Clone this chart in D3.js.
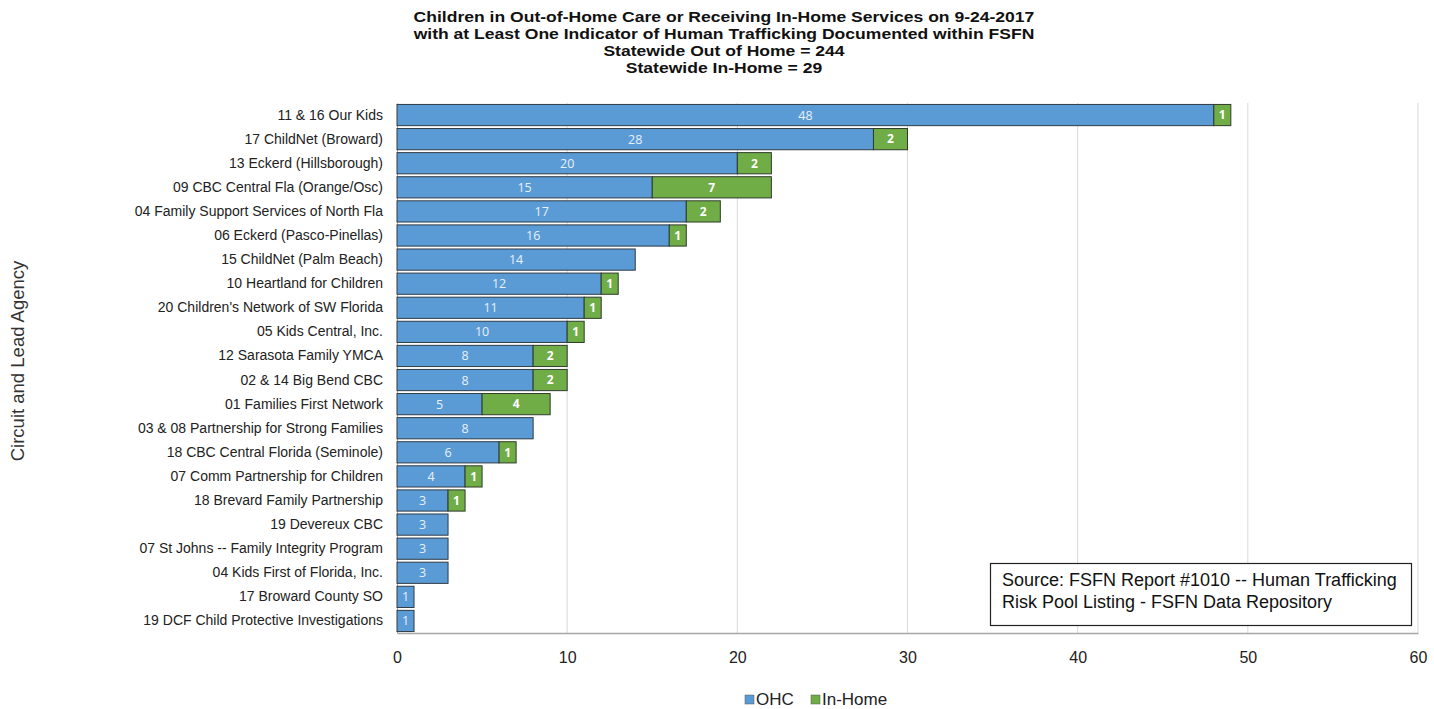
<!DOCTYPE html>
<html><head><meta charset="utf-8">
<script src="https://cdn.jsdelivr.net/npm/d3@7"></script>
<style>body{margin:0;background:#fff;} text{font-family:"Liberation Sans",Arial,sans-serif;}</style>
</head><body><svg id="c" width="1434" height="709"></svg>
<script>
const categories = ["11 & 16 Our Kids","17 ChildNet (Broward)","13 Eckerd (Hillsborough)","09 CBC Central Fla (Orange/Osc)","04 Family Support Services of North Fla","06 Eckerd (Pasco-Pinellas)","15 ChildNet (Palm Beach)","10 Heartland for Children","20 Children's Network of SW Florida","05 Kids Central, Inc.","12 Sarasota Family YMCA","02 & 14 Big Bend CBC","01 Families First Network","03 & 08 Partnership for Strong Families","18 CBC Central Florida (Seminole)","07 Comm Partnership for Children","18 Brevard Family Partnership","19 Devereux CBC","07 St Johns -- Family Integrity Program","04 Kids First of Florida, Inc.","17 Broward County SO","19 DCF Child Protective Investigations"];
const ohc = [48,28,20,15,17,16,14,12,11,10,8,8,5,8,6,4,3,3,3,3,1,1];
const inHome = [1,2,2,7,2,1,0,1,1,1,2,2,4,0,1,1,1,0,0,0,0,0];
const xTicks = [0,10,20,30,40,50,60];
const titleLines = ["Children in Out-of-Home Care or Receiving In-Home Services on 9-24-2017","with at Least One Indicator of Human Trafficking Documented within FSFN","Statewide Out of Home = 244","Statewide In-Home = 29"];
const seriesNames = ["OHC","In-Home"];
const colors = ["#5b9bd5","#70ad47"];
const sourceLines = ["Source: FSFN Report #1010 -- Human Trafficking","Risk Pool Listing - FSFN Data Repository"];

const svg = d3.select("#c");
const L=397, R=1418, T=103, B=633;
const x = d3.scaleLinear().domain([0,60]).range([L,R]);
const y = d3.scaleBand().domain(categories).range([T,B]).paddingInner(0.12).paddingOuter(0.06);

// gridlines
svg.append("g").selectAll("line").data(xTicks.filter(d=>d>0)).join("line")
  .attr("x1",d=>x(d)).attr("x2",d=>x(d)).attr("y1",T).attr("y2",B)
  .attr("stroke","#d9d9d9").attr("stroke-width",1);

// x axis
const xa = svg.append("g").attr("transform",`translate(0,${B})`)
  .call(d3.axisBottom(x).tickValues(xTicks).tickSize(0).tickPadding(19));
xa.select(".domain").attr("stroke","#a6a6a6").attr("stroke-width",1.5);
xa.selectAll("text").attr("font-size",16).attr("fill","#222").style("font-family","'Liberation Sans',Arial,sans-serif");

// y axis labels
const ya = svg.append("g").attr("transform",`translate(${L},0)`)
  .call(d3.axisLeft(y).tickSize(0).tickPadding(14));
ya.select(".domain").attr("stroke","#a6a6a6");
ya.selectAll("text").attr("font-size",14).attr("fill","#222").style("font-family","'Liberation Sans',Arial,sans-serif");

// bars
const g = svg.append("g");
categories.forEach((c,i)=>{
  const yy = y(c), h = y.bandwidth();
  g.append("rect").attr("x",x(0)).attr("y",yy).attr("width",x(ohc[i])-x(0)).attr("height",h)
    .attr("fill",colors[0]).attr("stroke","#2f3b46").attr("stroke-width",1);
  g.append("text").attr("x",(x(0)+x(ohc[i]))/2).attr("y",yy+h/2).attr("dy","0.36em")
    .attr("text-anchor","middle").attr("font-size",12.5).attr("fill","#e8f0f8")
    .style("font-family","'Open Sans',sans-serif").text(ohc[i]);
  if(inHome[i]>0){
    g.append("rect").attr("x",x(ohc[i])).attr("y",yy).attr("width",x(ohc[i]+inHome[i])-x(ohc[i])).attr("height",h)
      .attr("fill",colors[1]).attr("stroke","#2f3b2a").attr("stroke-width",1);
    g.append("text").attr("x",(x(ohc[i])+x(ohc[i]+inHome[i]))/2).attr("y",yy+h/2).attr("dy","0.36em")
      .attr("text-anchor","middle").attr("font-size",12).attr("font-weight","bold").attr("fill","#fff")
      .style("font-family","'Open Sans',sans-serif").text(inHome[i]);
  }
});

// title (slightly horizontally stretched like the reference)
svg.append("g").attr("transform","translate(724,0) scale(1.17,1)")
  .selectAll("text").data(titleLines).join("text")
  .attr("x",0).attr("y",(d,i)=>22+i*17).attr("text-anchor","middle")
  .attr("font-size",15).attr("font-weight","bold").attr("fill","#111").text(d=>d);

// y axis title
svg.append("text").attr("transform","translate(24,361) rotate(-90)").attr("text-anchor","middle")
  .attr("font-size",18.5).attr("fill","#333").text("Circuit and Lead Agency");

// source box
svg.append("rect").attr("x",990.5).attr("y",563.5).attr("width",421).attr("height",62)
  .attr("fill","#fff").attr("stroke","#222").attr("stroke-width",1.2);
svg.append("g").selectAll("text").data(sourceLines).join("text")
  .attr("x",1002).attr("y",(d,i)=>586+i*22).attr("font-size",18).attr("fill","#111").text(d=>d);

// legend
const lg = svg.append("g");
const legX = [745, 811];
seriesNames.forEach((s,i)=>{
  lg.append("rect").attr("x",legX[i]).attr("y",695).attr("width",9).attr("height",9)
    .attr("fill",colors[i]).attr("stroke","#555").attr("stroke-width",0.5);
  lg.append("text").attr("x",legX[i]+11).attr("y",705).attr("font-size",17).attr("fill","#222").text(s);
});
</script></body></html>
